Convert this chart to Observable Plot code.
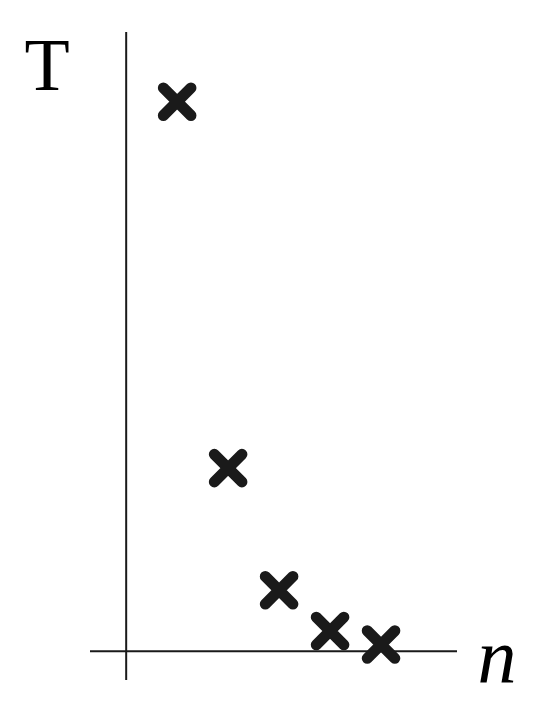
<!DOCTYPE html>
<html>
<head>
<meta charset="utf-8">
<script src="https://cdn.jsdelivr.net/npm/d3@7"></script>
<script src="https://cdn.jsdelivr.net/npm/@observablehq/plot@0.6"></script>
<style>
  html, body { margin: 0; padding: 0; background: #fff; }
  #chart svg { display: block; }
  #chart svg text.lbl { font-family: "Liberation Serif", "Times New Roman", Times, serif !important; }
</style>
</head>
<body>
<div id="chart"></div>
<script>
const nValues = [1, 2, 3, 4, 5];
const tValues = [81, 27, 9, 3, 1];
const xLabel = "n";
const yLabel = "T";

const data = nValues.map((n, i) => ({n, T: tValues[i]}));

const serif = "'Liberation Serif', 'Times New Roman', Times, serif";

const chart = Plot.plot({
  width: 538,
  height: 717,
  marginLeft: 90,
  marginRight: 81,
  marginTop: 32,
  marginBottom: 37,
  x: {domain: [-0.7, 6.5], axis: null},
  y: {domain: [-4.3, 91.2], axis: null},
  style: {background: "#fff"},
  marks: [
    Plot.ruleX([0], {stroke: "#1a1a1a", strokeWidth: 2, strokeOpacity: 1}),
    Plot.ruleY([0], {stroke: "#1a1a1a", strokeWidth: 2, strokeOpacity: 1}),
    Plot.dot(data, {
      x: "n", y: "T", symbol: "times", r: 12.6,
      stroke: "#1a1a1a", strokeWidth: 11, strokeLinecap: "round"
    }),
    Plot.text([yLabel], {
      frameAnchor: "top-left", dx: -43.5, dy: 57, lineAnchor: "bottom",
      textAnchor: "middle", fontFamily: serif, fontSize: 74, fill: "#000"
    }),
    Plot.text([xLabel], {
      frameAnchor: "bottom-right", dx: 39.5, dy: 2, lineAnchor: "bottom",
      textAnchor: "middle", fontFamily: serif, fontStyle: "italic", fontSize: 78, fill: "#000"
    })
  ]
});
document.getElementById("chart").appendChild(chart);
</script>
</body>
</html>
